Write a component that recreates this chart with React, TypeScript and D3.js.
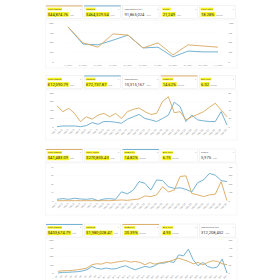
import React from 'react';
import * as d3 from 'd3';

const ORANGE = '#d9a85f';
const BLUE = '#66a9cc';
const YELLOW = '#f7f21c';

// ---------- Panel 1 ----------
const p1Dates = ['1/1/2021', '2/1/2021', '3/1/2021', '4/1/2021', '5/1/2021', '6/1/2021', '7/1/2021', '8/1/2021', '9/1/2021', '10/1/2021', '11/1/2021'];
const p1Orange = [90, 49, 38, 72, 69, 36, 49, 18, 44, 41, 38];
const p1Blue = [90, 46, 44, 56, 69, 36, 38, 13, 28, 26, 26];
const p1Left = ['0', '25k', '50k', '75k', '100k'];
const p1Right = ['0', '25k', '50k', '75k', '100k'];
const p1Labels = ['Cost (Spend)', 'Revenue', 'Impressions (all)', 'Clicks', 'Conv. Rate'];
const p1Values = ['$44,874.76', '$464,329.54', '91,865,024', '21,249', '18.28%'];
const p1Subs = ['Total', 'Total', 'Total', 'Total', 'Average'];

// ---------- Panel 2 ----------
const p2Dates = ['Mar 1', 'Mar 2', 'Mar 3', 'Mar 4', 'Mar 5', 'Mar 6', 'Mar 7', 'Mar 8', 'Mar 9', 'Mar 10', 'Mar 11', 'Mar 12', 'Mar 13', 'Mar 14', 'Mar 15', 'Mar 16', 'Mar 17', 'Mar 18', 'Mar 19', 'Mar 20', 'Mar 21', 'Mar 22', 'Mar 23', 'Mar 24', 'Mar 25', 'Mar 26', 'Mar 27', 'Mar 28', 'Mar 29', 'Mar 30'];
const p2Orange = [62, 45, 55, 40, 16, 30, 23, 35, 40, 30, 40, 25, 45, 52, 56, 45, 37, 40, 75, 89, 42, 45, 21, 30, 37, 45, 58, 70, 50, 30];
const p2Blue = [1, 3, 3, 3, 1, 4, 13, 8, 16, 16, 14, 11, 23, 30, 37, 25, 21, 16, 25, 35, 73, 60, 16, 35, 21, 18, 16, 16, 45, 6];
const p2Left = ['0', '200', '400', '600', '800'];
const p2Right = ['0', '20', '40', '60', '80'];
const p2Labels = ['Cost (Spend)', 'Revenue', 'Impressions', 'ROAS (%)', 'Avg. CPC'];
const p2Values = ['£12,090.79', '£72,737.87', '10,315,167', '14.62%', '6.02'];
const p2Subs = ['Total', 'Total', 'Total', 'Average', 'Average'];

// ---------- Panel 3 ----------
const p3Dates = p2Dates;
const p3Orange = [1, 1, 1, 1, 1, 1, 1, 1, 1, 1, 2, 3, 2, 4, 6, 15, 13, 18, 42, 27, 32, 72, 74, 22, 18, 13, 18, 20, 57, 1];
const p3Blue = [5, 7, 5, 8, 6, 5, 7, 1, 6, 7, 5, 27, 21, 32, 57, 52, 32, 62, 60, 42, 37, 39, 34, 27, 54, 62, 81, 76, 60, 57];
const p3Left = ['0', '1k', '2k', '3k', '4k'];
const p3Right = ['0', '100', '200', '300', '400'];
const p3Labels = ['Cost (Spend)', 'Conv. Value', 'ROAS (%)', 'Avg. CPC', 'Orders'];
const p3Values = ['$41,483.09', '$270,805.43', '14.82%', '6.75', '5,975'];
const p3Subs = ['Total', 'Total', 'Average', 'Average', 'Total'];

// ---------- Panel 4 ----------
const p4Weeks = ['W1', 'W2', 'W3', 'W4', 'W5', 'W6', 'W7', 'W8', 'W9', 'W10', 'W11', 'W12', 'W13', 'W14', 'W15', 'W16', 'W17', 'W18', 'W19', 'W20', 'W21', 'W22', 'W23', 'W24', 'W25', 'W26', 'W27', 'W28', 'W29', 'W30', 'W31', 'W32', 'W33', 'W34', 'W35', 'W36'];
const p4Orange = [5, 7, 7, 8, 10, 12, 15, 25, 28, 27, 32, 30, 33, 35, 37, 33, 35, 32, 25, 32, 27, 30, 33, 35, 40, 45, 40, 35, 28, 32, 25, 32, 37, 35, 28, 25];
const p4Blue = [0, 2, 2, 3, 4, 6, 10, 20, 14, 12, 15, 12, 13, 18, 22, 15, 10, 15, 20, 17, 22, 30, 30, 35, 32, 55, 52, 72, 40, 22, 32, 20, 15, 18, 42, 0];
const p4Left = ['0', '25k', '50k', '75k', '100k'];
const p4Right = ['0', '50', '100', '150', '200'];
const p4Labels = ['Cost (Spend)', 'Revenue', 'ROAS (%)', 'Avg. CPC', 'Impressions (all)'];
const p4Values = ['$403,674.79', '$1,980,028.47', '20.39%', '4.93', '312,208,452'];
const p4Subs = ['Total', 'Total', 'Average', 'Average', 'Total'];

const FONT = 'Roboto, "Noto Sans", sans-serif';

function textW(s: string, fs: number) {
  let w = 0;
  for (const c of s) {
    if (c === ',' || c === '.') w += 0.27;
    else if (c === '%') w += 0.8;
    else if (c === ' ' || c === '(' || c === ')') w += 0.28;
    else if (/[A-Z]/.test(c)) w += 0.62;
    else if (/[a-z]/.test(c)) w += 0.5;
    else w += 0.56;
  }
  return w * fs;
}

type CardStyle = { top?: string; hlLabel: boolean; hlValue: boolean };

function Cards({ y, labels, values, subs, styles }: { y: number; labels: string[]; values: string[]; subs: string[]; styles: CardStyle[] }) {
  const cw = 36.4;
  const ch = 13;
  return (
    <g>
      {labels.map((lab, i) => {
        const x = 46 + i * 38.3;
        const st = styles[i];
        const lw = textW(lab, 2.4) + 1;
        const vw = textW(values[i], 4.1) + 0.8;
        return (
          <g key={i}>
            <rect x={x} y={y} width={cw} height={ch} fill="#fff" stroke="#e2e2e2" strokeWidth={0.4} />
            {st.top && <rect x={x} y={y} width={cw} height={0.9} fill={st.top} />}
            {st.hlLabel && <rect x={x + 1.4} y={y + 2.2} width={lw} height={2.6} fill={YELLOW} />}
            <text x={x + 1.9} y={y + 4.3} fontSize={2.4} fill="#555" fontFamily={FONT}>{lab}</text>
            <text x={x + cw - 1.5} y={y + 4.3} fontSize={2.2} fill="#aaa" textAnchor="end" fontFamily={FONT}>▾</text>
            {st.hlValue && <rect x={x + 1.4} y={y + 6.6} width={vw} height={4.6} fill={YELLOW} />}
            <text x={x + 1.8} y={y + 10.3} fontSize={4.1} fill="#333" fontFamily={FONT}>{values[i]}</text>
            <text x={x + 1.8 + vw + 0.8} y={y + 10.3} fontSize={1.8} fill="#999" fontFamily={FONT}>{subs[i]}</text>
          </g>
        );
      })}
    </g>
  );
}

type ChartCfg = {
  box: [number, number];
  xr: [number, number];
  yr: [number, number];
  labels: string[];
  orange: number[];
  blue: number[];
  left: string[];
  right: string[];
  rotate: boolean;
  xFont: number;
  xLabelY: number;
};

function Chart({ cfg }: { cfg: ChartCfg }) {
  const x = d3.scalePoint<string>().domain(cfg.labels).range(cfg.xr);
  const y = d3.scaleLinear().domain([0, 100]).range(cfg.yr);
  const line = d3.line<number>().x((_, i) => x(cfg.labels[i]) as number).y((d) => y(d));
  const tickVals = [0, 25, 50, 75, 100];
  return (
    <g>
      <rect x={45.5} y={cfg.box[0]} width={191.5} height={cfg.box[1] - cfg.box[0]} fill="none" stroke="#ebebeb" strokeWidth={0.4} />
      {tickVals.map((t, i) => (
        <g key={i}>
          <line x1={cfg.xr[0]} x2={cfg.xr[1]} y1={y(t)} y2={y(t)} stroke="#f4f4f4" strokeWidth={0.3} />
          <text x={53.5} y={y(t) + 0.8} fontSize={2.3} fill="#888" textAnchor="end" fontFamily={FONT}>{cfg.left[i]}</text>
          <text x={228.5} y={y(t) + 0.8} fontSize={2.3} fill="#888" textAnchor="start" fontFamily={FONT}>{cfg.right[i]}</text>
        </g>
      ))}
      {cfg.labels.map((l, i) => {
        const xx = x(l) as number;
        return cfg.rotate ? (
          <text key={i} x={xx} y={cfg.xLabelY} fontSize={cfg.xFont} fill="#8f8f8f" textAnchor="end" fontFamily={FONT} transform={`rotate(-45 ${xx} ${cfg.xLabelY})`}>{l}</text>
        ) : (
          <text key={i} x={xx} y={cfg.xLabelY} fontSize={cfg.xFont} fill="#8f8f8f" textAnchor="middle" fontFamily={FONT}>{l}</text>
        );
      })}
      <path d={line(cfg.blue) || ''} fill="none" stroke={BLUE} strokeWidth={0.9} strokeLinejoin="round" />
      <path d={line(cfg.orange) || ''} fill="none" stroke={ORANGE} strokeWidth={0.9} strokeLinejoin="round" />
    </g>
  );
}

export default function App() {
  const s1: CardStyle[] = [
    { top: ORANGE, hlLabel: true, hlValue: true },
    { top: BLUE, hlLabel: true, hlValue: true },
    { hlLabel: false, hlValue: false },
    { hlLabel: true, hlValue: true },
    { hlLabel: true, hlValue: true },
  ];
  const s2: CardStyle[] = [
    { hlLabel: true, hlValue: true },
    { top: BLUE, hlLabel: true, hlValue: true },
    { hlLabel: false, hlValue: false },
    { top: ORANGE, hlLabel: true, hlValue: true },
    { hlLabel: true, hlValue: true },
  ];
  const s3: CardStyle[] = [
    { top: ORANGE, hlLabel: true, hlValue: true },
    { hlLabel: true, hlValue: true },
    { top: BLUE, hlLabel: true, hlValue: true },
    { hlLabel: true, hlValue: true },
    { hlLabel: false, hlValue: false },
  ];
  const s4: CardStyle[] = [
    { top: BLUE, hlLabel: true, hlValue: true },
    { hlLabel: true, hlValue: true },
    { top: ORANGE, hlLabel: true, hlValue: true },
    { hlLabel: true, hlValue: true },
    { hlLabel: false, hlValue: false },
  ];
  return (
    <svg width={280} height={280} viewBox="0 0 280 280" style={{ position: 'absolute', left: 0, top: 0, background: '#fff' }}>
      <rect width={280} height={280} fill="#fff" />
      <Cards y={5.5} labels={p1Labels} values={p1Values} subs={p1Subs} styles={s1} />
      <Chart cfg={{ box: [20, 68], xr: [68, 218], yr: [62, 23], labels: p1Dates, orange: p1Orange, blue: p1Blue, left: p1Left, right: p1Right, rotate: false, xFont: 2.1, xLabelY: 65.5 }} />
      <Cards y={75.5} labels={p2Labels} values={p2Values} subs={p2Subs} styles={s2} />
      <Chart cfg={{ box: [90, 140], xr: [57, 227], yr: [127, 93], labels: p2Dates, orange: p2Orange, blue: p2Blue, left: p2Left, right: p2Right, rotate: true, xFont: 2.5, xLabelY: 130 }} />
      <Cards y={149} labels={p3Labels} values={p3Values} subs={p3Subs} styles={s3} />
      <Chart cfg={{ box: [163, 215], xr: [57, 227], yr: [201, 167], labels: p3Dates, orange: p3Orange, blue: p3Blue, left: p3Left, right: p3Right, rotate: true, xFont: 2.5, xLabelY: 204 }} />
      <Cards y={224} labels={p4Labels} values={p4Values} subs={p4Subs} styles={s4} />
      <Chart cfg={{ box: [238, 284], xr: [58, 227], yr: [273, 240], labels: p4Weeks, orange: p4Orange, blue: p4Blue, left: p4Left, right: p4Right, rotate: true, xFont: 2.0, xLabelY: 276 }} />
    </svg>
  );
}
